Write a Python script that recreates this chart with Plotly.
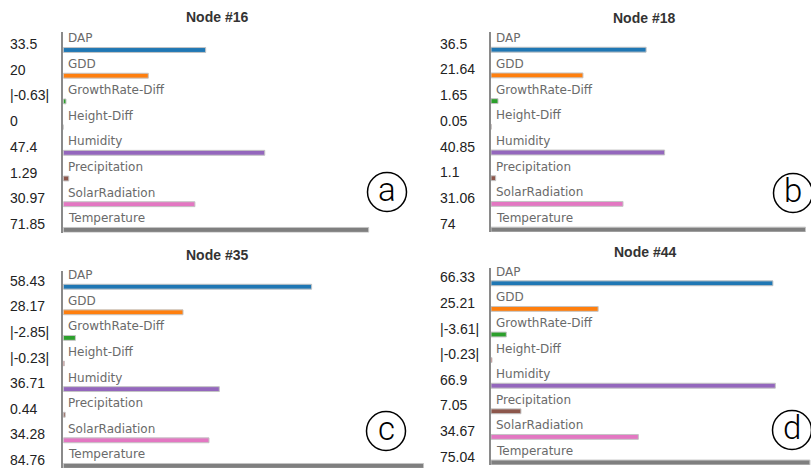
import plotly.graph_objects as go

W, H = 811, 468

features = ["DAP", "GDD", "GrowthRate-Diff", "Height-Diff", "Humidity",
            "Precipitation", "SolarRadiation", "Temperature"]
colors = ["#1f77b4", "#ff7f0e", "#2ca02c", "#d62728", "#9467bd",
          "#8c564b", "#e377c2", "#7f7f7f"]
node_titles = ["Node #16", "Node #18", "Node #35", "Node #44"]
node16 = [33.5, 20, -0.63, 0, 47.4, 1.29, 30.97, 71.85]
node18 = [36.5, 21.64, 1.65, 0.05, 40.85, 1.1, 31.06, 74]
node35 = [58.43, 28.17, -2.85, -0.23, 36.71, 0.44, 34.28, 84.76]
node44 = [66.33, 25.21, -3.61, -0.23, 66.9, 7.05, 34.67, 75.04]
panel_letters = ["a", "b", "c", "d"]
nodes = [node16, node18, node35, node44]

PX_PER_UNIT = 4.25
# panel geometry in pixels
geo = [
    dict(ax=63.3, row0=50.0, step=25.7, top=32, bottom=232.5, right=430, title=(216.5, 17), vx=10, circ=(387, 192)),
    dict(ax=491, row0=49.7, step=25.7, top=32, bottom=232.0, right=811, title=(643.5, 18), vx=440, circ=(793, 193)),
    dict(ax=63.3, row0=286.7, step=25.6, top=271, bottom=468, right=430, title=(217, 255), vx=10, circ=(386, 431)),
    dict(ax=491, row0=283.3, step=25.6, top=268, bottom=465, right=811, title=(644.5, 252), vx=440, circ=(792, 430)),
]


def fmt(v):
    s = f"{v:g}"
    return f"|{s}|" if v < 0 else s


fig = go.Figure()
annotations = []
shapes = []
layout_axes = {}
rows = list(range(len(features)))

for k, (vals, g) in enumerate(zip(nodes, geo)):
    sfx = "" if k == 0 else str(k + 1)
    xa, ya = "x" + sfx, "y" + sfx
    fig.add_trace(go.Bar(
        x=[abs(v) for v in vals], y=rows, orientation="h",
        width=0.19,
        marker=dict(color=colors, line=dict(color="#c4c4c4", width=1)),
        xaxis=xa, yaxis=ya, hoverinfo="skip",
    ))
    xmax = (g["right"] - g["ax"]) / PX_PER_UNIT
    ytop = -(g["row0"] - g["top"]) / g["step"]
    ybot = (g["bottom"] - g["row0"]) / g["step"]
    layout_axes["xaxis" + sfx] = dict(
        domain=[g["ax"] / W, min(g["right"] / W, 1.0)], range=[0, xmax],
        anchor=ya, showline=False, showgrid=False, zeroline=False,
        showticklabels=False, ticks="", fixedrange=True)
    layout_axes["yaxis" + sfx] = dict(
        domain=[1 - g["bottom"] / H, 1 - g["top"] / H], range=[ybot, ytop],
        anchor=xa, showline=True, linecolor="#8a8a8a", linewidth=1.5,
        showgrid=False, zeroline=False, showticklabels=False, ticks="",
        fixedrange=True)
    for i, (name, v) in enumerate(zip(features, vals)):
        annotations.append(dict(
            x=0, y=i, xref=xa, yref=ya, text=name, showarrow=False,
            xanchor="left", yanchor="middle", xshift=3, yshift=11.5,
            font=dict(family="DejaVu Sans", size=12, color="#6a6a6a")))
        annotations.append(dict(
            x=g["vx"] / W, y=i, xref="paper", yref=ya, text=fmt(v),
            showarrow=False, xanchor="left", yanchor="middle",
            xshift=-2, yshift=6,
            font=dict(family="Liberation Sans", size=14, color="#222222")))
    tx, ty = g["title"]
    annotations.append(dict(
        x=tx / W, y=1 - ty / H, xref="paper", yref="paper",
        text="<b>" + node_titles[k] + "</b>", showarrow=False,
        xanchor="center", yanchor="middle",
        font=dict(family="Liberation Sans", size=14, color="#333333")))
    cx, cy = g["circ"]
    r = 19.5
    shapes.append(dict(
        type="circle", xref="paper", yref="paper",
        x0=(cx - r) / W, x1=(cx + r) / W, y0=1 - (cy + r) / H, y1=1 - (cy - r) / H,
        line=dict(color="black", width=1.5)))
    annotations.append(dict(
        x=cx / W, y=1 - cy / H, xref="paper", yref="paper",
        text=panel_letters[k], showarrow=False, xanchor="center",
        yanchor="middle", yshift=3,
        font=dict(family="Roboto, Liberation Sans", size=33, color="black",
                  weight=300)))

fig.update_layout(
    width=W, height=H, margin=dict(l=0, r=0, t=0, b=0),
    plot_bgcolor="white", paper_bgcolor="white", showlegend=False,
    annotations=annotations, shapes=shapes, **layout_axes)

fig.write_html("out.html", config={"displayModeBar": False},
               post_script="document.body.style.margin='0';document.body.style.overflow='hidden';")
